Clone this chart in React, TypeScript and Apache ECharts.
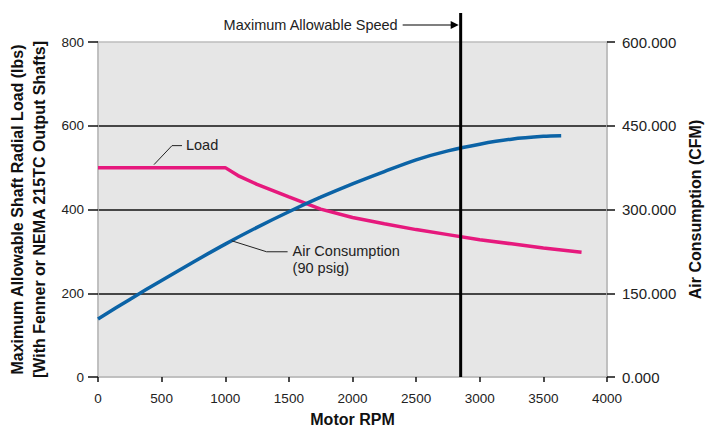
import React, { useEffect, useRef } from "react";
import * as echarts from "echarts";

const RPM_TICKS_MAX = 4000;
const LOAD_MAX = 800;
const AIR_MAX = 600;

const RPM_LOAD = [0, 1000, 1100, 1250, 1500, 1750, 2000, 2250, 2500, 2750, 3000, 3250, 3500, 3800];
const LOAD = [500, 500, 481, 460, 430, 401, 381, 366, 352, 340, 328, 318, 308, 298];

const RPM_AIR = [0, 250, 500, 750, 1000, 1250, 1500, 1750, 2000, 2250, 2500, 2750, 3000, 3250, 3500, 3640];
const AIR = [104, 139, 173, 206, 238, 268, 296, 322, 346, 368, 389, 405, 417, 426, 431, 432];

const MAX_SPEED = 2850;
const LOAD_LABEL_AT = [440, 500];
const AIR_LABEL_AT = [1050, 244];

const FONT = "'Liberation Sans', Arial, sans-serif";
const PINK = "#e6197d";
const BLUE = "#0b63a6";
const TXT = "#222";

export default function App() {
  const ref = useRef<HTMLDivElement>(null);
  useEffect(() => {
    if (!ref.current) return;
    const chart = echarts.init(ref.current, undefined, { renderer: "svg" });
    const option: any = {
      animation: false,
      textStyle: { fontFamily: FONT },
      grid: {
        left: 98,
        right: 101,
        top: 42,
        bottom: 52,
        outerBoundsMode: "none",
        containLabel: false,
        show: true,
        backgroundColor: "#e6e6e6",
        borderColor: "#bdbdbd",
        borderWidth: 1.5,
      },
      xAxis: {
        type: "value",
        min: 0,
        max: RPM_TICKS_MAX,
        interval: 500,
        axisLine: { show: true, lineStyle: { color: "#bdbdbd", width: 1.5 } },
        axisTick: { show: true, length: 5, lineStyle: { color: "#111", width: 1.5 } },
        axisLabel: {
          color: TXT,
          fontSize: 13.5,
          margin: 14,
          fontFamily: FONT,
          formatter: (v: number) => String(v),
        },
        splitLine: { show: false },
        name: "Motor RPM",
        nameLocation: "middle",
        nameGap: 34,
        nameTextStyle: { color: "#111", fontSize: 16, fontWeight: "bold", fontFamily: FONT },
      },
      yAxis: [
        {
          type: "value",
          min: 0,
          max: LOAD_MAX,
          interval: 200,
          position: "left",
          axisLine: { show: true, lineStyle: { color: "#bdbdbd", width: 1.5 } },
          axisTick: { show: true, length: 10, lineStyle: { color: "#111", width: 1.5 } },
          axisLabel: { color: TXT, fontSize: 13.5, margin: 14, fontFamily: FONT },
          splitLine: {
            show: true,
            showMinLine: false,
            showMaxLine: false,
            lineStyle: { color: "#111", width: 1.5 },
          },
          name: "Maximum Allowable Shaft Radial Load (lbs)\n[With Fenner or NEMA 215TC Output Shafts]",
          nameLocation: "middle",
          nameGap: 46,
          nameTextStyle: {
            color: "#111",
            fontSize: 16,
            fontWeight: "bold",
            fontFamily: FONT,
            lineHeight: 22,
          },
        },
        {
          type: "value",
          min: 0,
          max: AIR_MAX,
          interval: 150,
          position: "right",
          axisLine: { show: true, lineStyle: { color: "#bdbdbd", width: 1.5 } },
          axisTick: { show: true, length: 8, lineStyle: { color: "#111", width: 1.5 } },
          axisLabel: {
            color: TXT,
            fontSize: 15,
            margin: 15,
            fontFamily: FONT,
            formatter: (v: number) => v.toFixed(3),
          },
          splitLine: { show: false },
          name: "Air Consumption (CFM)",
          nameLocation: "middle",
          nameGap: 79,
          nameTextStyle: { color: "#111", fontSize: 16, fontWeight: "bold", fontFamily: FONT },
        },
      ],
      series: [
        {
          name: "Load",
          type: "line",
          yAxisIndex: 0,
          showSymbol: false,
          data: RPM_LOAD.map((r, i) => [r, LOAD[i]]),
          lineStyle: { color: PINK, width: 3.5 },
          itemStyle: { color: PINK },
          z: 3,
        },
        {
          name: "Air Consumption",
          type: "line",
          yAxisIndex: 1,
          showSymbol: false,
          smooth: 0.3,
          data: RPM_AIR.map((r, i) => [r, AIR[i]]),
          lineStyle: { color: BLUE, width: 3.5 },
          itemStyle: { color: BLUE },
          z: 4,
        },
      ],
    };
    chart.setOption(option);

    const vx = chart.convertToPixel({ xAxisIndex: 0 }, MAX_SPEED) as number;
    const yBottom = chart.convertToPixel({ yAxisIndex: 0 }, 0) as number;
    const lp = chart.convertToPixel({ xAxisIndex: 0, yAxisIndex: 0 }, LOAD_LABEL_AT) as number[];
    const ap = chart.convertToPixel({ xAxisIndex: 0, yAxisIndex: 1 }, AIR_LABEL_AT) as number[];
    const arrowY = 25;

    chart.setOption({
      graphic: [
        {
          type: "line",
          shape: { x1: vx, y1: 13, x2: vx, y2: yBottom },
          style: { stroke: "#000", lineWidth: 3 },
          z: 100,
        },
        {
          type: "line",
          shape: { x1: vx - 58, y1: arrowY, x2: vx - 8, y2: arrowY },
          style: { stroke: "#000", lineWidth: 1.2 },
          z: 100,
        },
        {
          type: "polygon",
          shape: { points: [[vx - 10, arrowY - 4], [vx - 2, arrowY], [vx - 10, arrowY + 4]] },
          style: { fill: "#000" },
          z: 100,
        },
        {
          type: "text",
          x: vx - 63,
          y: arrowY,
          style: {
            text: "Maximum Allowable Speed",
            fill: TXT,
            font: `14.5px ${FONT}`,
            textAlign: "right",
            textVerticalAlign: "middle",
          },
          z: 100,
        },
        {
          type: "polyline",
          shape: { points: [[lp[0], lp[1] - 3], [lp[0] + 18, lp[1] - 22], [lp[0] + 28, lp[1] - 22]] },
          style: { stroke: "#222", lineWidth: 1, fill: "none" },
          z: 100,
        },
        {
          type: "text",
          x: lp[0] + 32,
          y: lp[1] - 23,
          style: {
            text: "Load",
            fill: TXT,
            font: `14.5px ${FONT}`,
            textAlign: "left",
            textVerticalAlign: "middle",
          },
          z: 100,
        },
        {
          type: "polyline",
          shape: { points: [[ap[0], ap[1]], [ap[0] + 35, ap[1] + 11], [ap[0] + 56, ap[1] + 11]] },
          style: { stroke: "#222", lineWidth: 1, fill: "none" },
          z: 100,
        },
        {
          type: "text",
          x: ap[0] + 61,
          y: ap[1] + 2,
          style: {
            text: "Air Consumption\n(90 psig)",
            fill: TXT,
            font: `14.5px ${FONT}`,
            lineHeight: 17,
            textAlign: "left",
            textVerticalAlign: "top",
          },
          z: 100,
        },
      ],
    });

    return () => chart.dispose();
  }, []);
  return (
    <div
      ref={ref}
      style={{ position: "fixed", left: 0, top: 0, width: 708, height: 429, background: "#fff" }}
    />
  );
}
